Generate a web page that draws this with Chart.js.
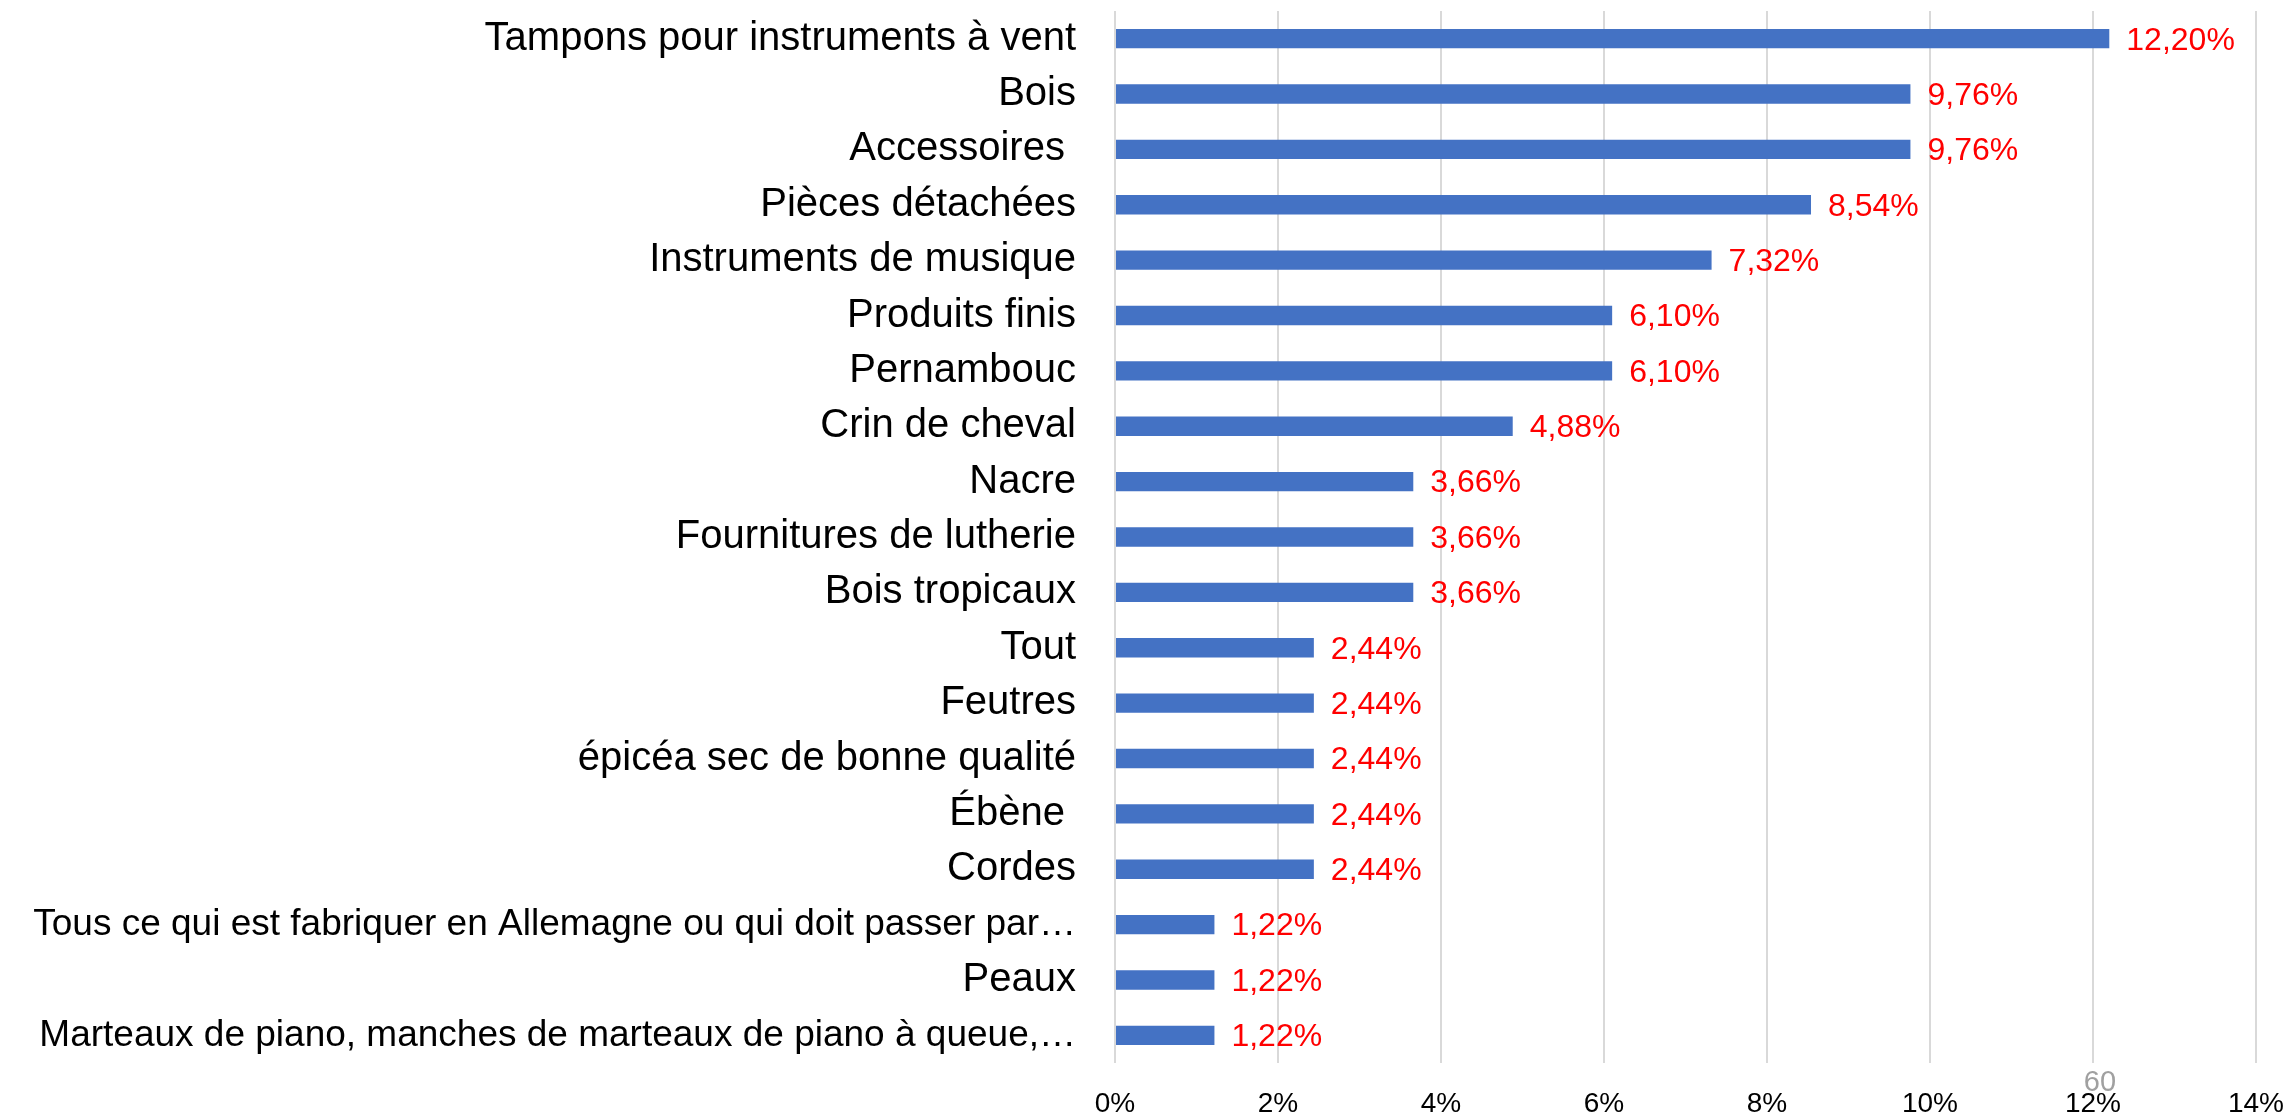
<!DOCTYPE html>
<html>
<head>
<meta charset="utf-8">
<script src="https://cdn.jsdelivr.net/npm/chart.js@4.4.1/dist/chart.umd.min.js"></script>
<style>
    html, body { margin: 0; padding: 0; background: #fff; }
    #wrap { width: 2289px; height: 1116px; position: relative; }
</style>
</head>
<body>
<div id="wrap"><canvas id="chart"></canvas></div>
<script>
// --- Data ---
const categories = [
    'Tampons pour instruments à vent',
    'Bois',
    'Accessoires ',
    'Pièces détachées',
    'Instruments de musique',
    'Produits finis',
    'Pernambouc',
    'Crin de cheval',
    'Nacre',
    'Fournitures de lutherie',
    'Bois tropicaux',
    'Tout',
    'Feutres',
    'épicéa sec de bonne qualité',
    'Ébène ',
    'Cordes',
    'Tous ce qui est fabriquer en Allemagne ou qui doit passer par…',
    'Peaux',
    'Marteaux de piano, manches de marteaux de piano à queue,…'
];
const shares = [12.20, 9.76, 9.76, 8.54, 7.32, 6.10, 6.10, 4.88, 3.66, 3.66, 3.66, 2.44, 2.44, 2.44, 2.44, 2.44, 1.22, 1.22, 1.22];
const axisMax = 14;
const axisStep = 2;
const pageNote = '60';

const FONT = "'Liberation Sans', Arial, sans-serif";

// --- Value labels next to each bar ---
const valueLabels = {
    id: 'valueLabels',
    afterDatasetsDraw(chart) {
        const ctx = chart.ctx;
        const meta = chart.getDatasetMeta(0);
        ctx.save();
        ctx.font = `32px ${FONT}`;
        ctx.fillStyle = '#ff0000';
        ctx.textAlign = 'left';
        ctx.textBaseline = 'middle';
        meta.data.forEach((bar, i) => {
            const txt = shares[i].toFixed(2).replace('.', ',') + '%';
            ctx.fillText(txt, bar.x + 17, bar.y + 2);
        });
        ctx.restore();
    }
};

// stray page number sitting over the 12% tick
const pageNumber = {
    id: 'pageNumber',
    afterDraw(chart) {
        const ctx = chart.ctx;
        const x = chart.scales.x.getPixelForValue(12);
        ctx.save();
        ctx.font = `29px ${FONT}`;
        ctx.fillStyle = '#a0a0a0';
        ctx.textAlign = 'center';
        ctx.textBaseline = 'middle';
        ctx.fillText(pageNote, x + 7, 1083);
        ctx.restore();
    }
};

new Chart(document.getElementById('chart'), {
    type: 'bar',
    data: {
        labels: categories,
        datasets: [{
            data: shares,
            backgroundColor: '#4472c4',
            borderWidth: 0,
            categoryPercentage: 1,
            barPercentage: 0.35
        }]
    },
    options: {
        indexAxis: 'y',
        responsive: true,
        maintainAspectRatio: false,
        devicePixelRatio: 1,
        animation: false,
        layout: { padding: { top: 11, right: 33, left: 0, bottom: 0 } },
        plugins: {
            legend: { display: false },
            tooltip: { enabled: false }
        },
        scales: {
            x: {
                min: 0,
                max: axisMax,
                grid: { color: '#d9d9d9', lineWidth: 2, drawTicks: false },
                border: { display: false },
                ticks: {
                    stepSize: axisStep,
                    padding: 24,
                    color: '#000',
                    font: { family: FONT, size: 28 },
                    callback: v => v + '%'
                },
                afterFit(scale) {
                    scale.height = 53;
                    scale.paddingLeft = 0;
                    scale.paddingRight = 0;
                }
            },
            y: {
                grid: { display: false, drawTicks: false },
                border: { display: false },
                ticks: {
                    padding: 39,
                    autoSkip: false,
                    color: '#000',
                    // the two truncated long labels are squeezed a bit so they fit
                    font: ctx => ({
                        family: FONT,
                        size: (categories[ctx.index] || '').length > 40 ? 37 : 40
                    })
                },
                afterFit(scale) {
                    scale.width = 1115;
                    scale.paddingTop = 0;
                    scale.paddingBottom = 0;
                }
            }
        }
    },
    plugins: [valueLabels, pageNumber]
});
</script>
</body>
</html>
